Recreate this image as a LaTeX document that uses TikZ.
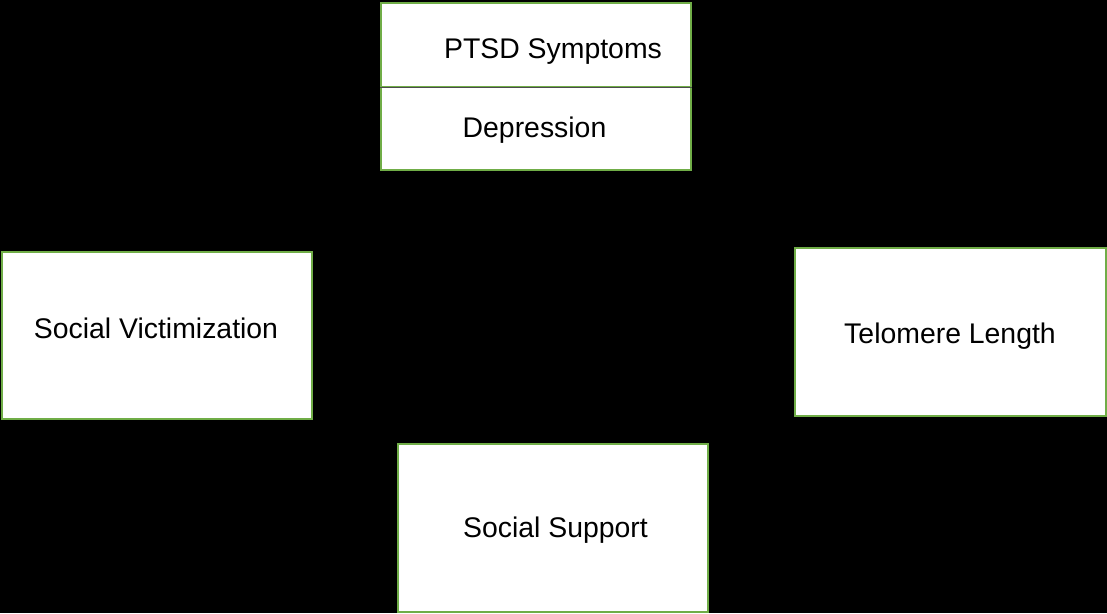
\documentclass[tikz,border=0pt]{standalone}
\usepackage{fontspec}
\setmainfont{Liberation Sans}
\usepackage{tikz}
\definecolor{boxgreen}{RGB}{112,173,71}
\tikzset{
    box/.style={rectangle, draw=boxgreen, line width=1.2pt, fill=white, inner sep=0pt},
    lbl/.style={inner sep=0pt, font=\fontsize{28.4}{34}\selectfont}
}

\begin{document}
\begin{tikzpicture}[x=1pt, y=-1pt]
        \fill[black] (0, 0) rectangle (1107, 613);
        \useasboundingbox (0, 0) rectangle (1107, 613);

        \node[box, minimum width=310pt, minimum height=84pt] (ptsd) at (536, 45) {};
        \node[box, minimum width=310pt, minimum height=83pt] (dep) at (536, 128.5) {};
        \node[box, minimum width=310pt, minimum height=167pt] (vict) at (157, 335.5) {};
        \node[box, minimum width=311pt, minimum height=168pt] (telo) at (950.5, 332) {};
        \node[box, minimum width=310pt, minimum height=168pt] (supp) at (553, 528) {};

        \node[lbl] (ptsdtext) at (553, 52) {PTSD Symptoms};
        \node[lbl] (deptext) at (534.5, 130) {Depression};
        \node[lbl] (victtext) at (156, 328) {Social Victimization};
        \node[lbl] (telotext) at (950, 336) {Telomere Length};
        \node[lbl] (supptext) at (555.5, 530) {Social Support};

        \draw[black!70, line width=1.2pt] (ptsd.south west) -- (ptsd.south east);
    \end{tikzpicture}
\end{document}
